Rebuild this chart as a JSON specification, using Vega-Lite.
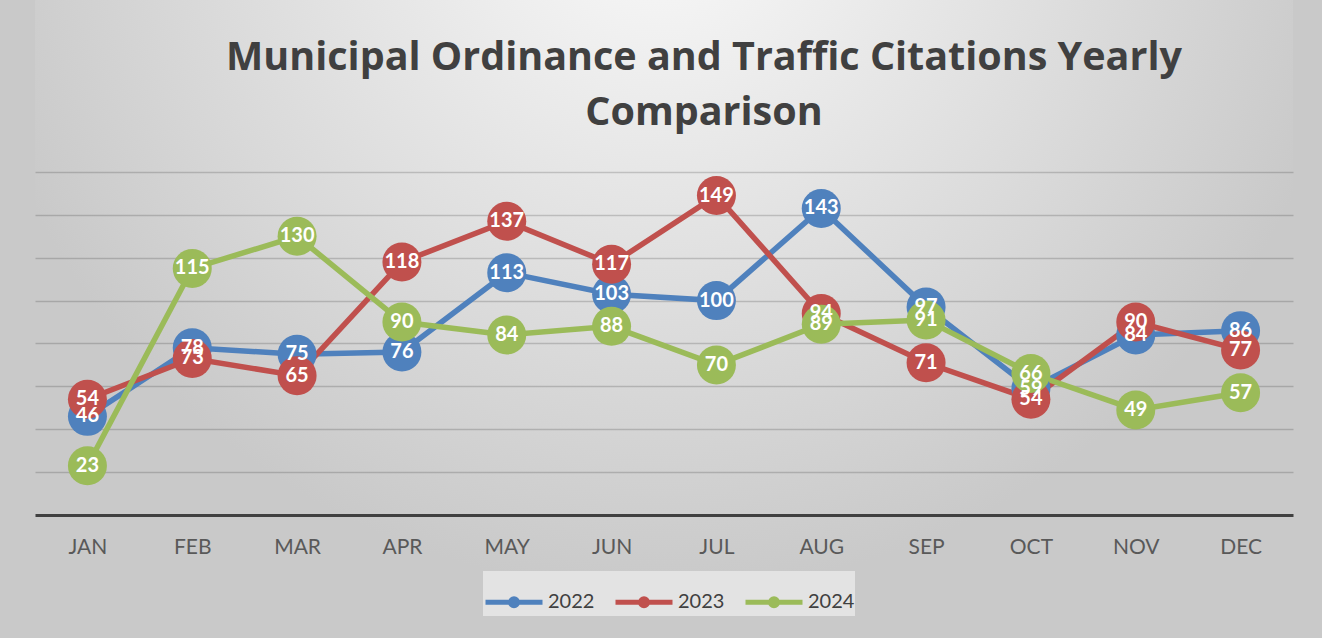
{
  "$schema": "https://vega.github.io/schema/vega-lite/v6.json",
  "width": 1258,
  "height": 638,
  "autosize": {"type": "none"},
  "padding": {"left": 35, "right": 29, "top": 0, "bottom": 0},
  "background": "#c9c9c9",
  "config": {
    "view": {"stroke": null, "fill": {"gradient": "radial", "x1": 0.497, "y1": 0.157, "r1": 0, "x2": 0.497, "y2": 0.157, "r2": 0.56, "stops": [{"offset": 0, "color": "#fbfbfb"}, {"offset": 1, "color": "#c9c9c9"}]}},
    "font": "Lato"
  },
  "title": {
    "text": ["Municipal Ordinance and Traffic Citations Yearly", "Comparison"],
    "fontSize": 39.5,
    "font": "Open Sans",
    "fontWeight": "bold",
    "color": "#404040",
    "anchor": "middle",
    "frame": "group",
    "dx": 40,
    "lineHeight": 55,
    "baseline": "top",
    "offset": -133
  },
  "data": {"values": [
    {"month": "JAN", "year": "2022", "value": 46},
    {"month": "FEB", "year": "2022", "value": 78},
    {"month": "MAR", "year": "2022", "value": 75},
    {"month": "APR", "year": "2022", "value": 76},
    {"month": "MAY", "year": "2022", "value": 113},
    {"month": "JUN", "year": "2022", "value": 103},
    {"month": "JUL", "year": "2022", "value": 100},
    {"month": "AUG", "year": "2022", "value": 143},
    {"month": "SEP", "year": "2022", "value": 97},
    {"month": "OCT", "year": "2022", "value": 59},
    {"month": "NOV", "year": "2022", "value": 84},
    {"month": "DEC", "year": "2022", "value": 86},
    {"month": "JAN", "year": "2023", "value": 54},
    {"month": "FEB", "year": "2023", "value": 73},
    {"month": "MAR", "year": "2023", "value": 65},
    {"month": "APR", "year": "2023", "value": 118},
    {"month": "MAY", "year": "2023", "value": 137},
    {"month": "JUN", "year": "2023", "value": 117},
    {"month": "JUL", "year": "2023", "value": 149},
    {"month": "AUG", "year": "2023", "value": 94},
    {"month": "SEP", "year": "2023", "value": 71},
    {"month": "OCT", "year": "2023", "value": 54},
    {"month": "NOV", "year": "2023", "value": 90},
    {"month": "DEC", "year": "2023", "value": 77},
    {"month": "JAN", "year": "2024", "value": 23},
    {"month": "FEB", "year": "2024", "value": 115},
    {"month": "MAR", "year": "2024", "value": 130},
    {"month": "APR", "year": "2024", "value": 90},
    {"month": "MAY", "year": "2024", "value": 84},
    {"month": "JUN", "year": "2024", "value": 88},
    {"month": "JUL", "year": "2024", "value": 70},
    {"month": "AUG", "year": "2024", "value": 89},
    {"month": "SEP", "year": "2024", "value": 91},
    {"month": "OCT", "year": "2024", "value": 66},
    {"month": "NOV", "year": "2024", "value": 49},
    {"month": "DEC", "year": "2024", "value": 57}
  ]},
  "encoding": {
    "x": {
      "field": "month",
      "type": "ordinal",
      "sort": ["JAN", "FEB", "MAR", "APR", "MAY", "JUN", "JUL", "AUG", "SEP", "OCT", "NOV", "DEC"],
      "scale": {"type": "point", "padding": 0.5},
      "axis": {"title": null, "labelAngle": 0, "offset": -123, "domainColor": "#404040", "domainWidth": 3, "ticks": false, "labelFontSize": 21, "labelColor": "#595959", "labelPadding": 21, "labelFont": "Lato", "grid": false}
    },
    "y": {
      "field": "value",
      "type": "quantitative",
      "scale": {"domain": [-57.38, 240.23], "nice": false, "zero": false},
      "axis": {"title": null, "labels": false, "ticks": false, "domain": false, "values": [20, 40, 60, 80, 100, 120, 140, 160], "grid": true, "gridColor": "#000000", "gridOpacity": 0.17, "gridWidth": 1.5}
    },
    "color": {
      "field": "year",
      "type": "nominal",
      "scale": {"domain": ["2022", "2023", "2024"], "range": ["#4f81bd", "#c0504d", "#9bbb59"]},
      "legend": {
        "orient": "none",
        "legendX": 448,
        "legendY": 571,
        "direction": "horizontal",
        "title": null,
        "symbolType": "M-1,0L1,0M-0.12,0A0.12,0.12 0 1,0 0.12,0A0.12,0.12 0 1,0 -0.12,0",
        "symbolSize": 3249,
        "symbolStrokeWidth": 5,
        "labelFontSize": 20,
        "labelColor": "#404040",
        "labelFont": "Lato",
        "labelOffset": 3,
        "columnPadding": 10,
        "padding": 0,
        "fillColor": "#e3e3e3"
      }
    }
  },
  "layer": [
    {"mark": {"type": "line", "strokeWidth": 5.5}},
    {"mark": {"type": "circle", "size": 1520, "opacity": 1}},
    {
      "mark": {"type": "text", "fontSize": 20, "fontWeight": "bold", "font": "Lato"},
      "encoding": {"text": {"field": "value", "type": "quantitative"}, "color": {"value": "white"}}
    }
  ]
}
